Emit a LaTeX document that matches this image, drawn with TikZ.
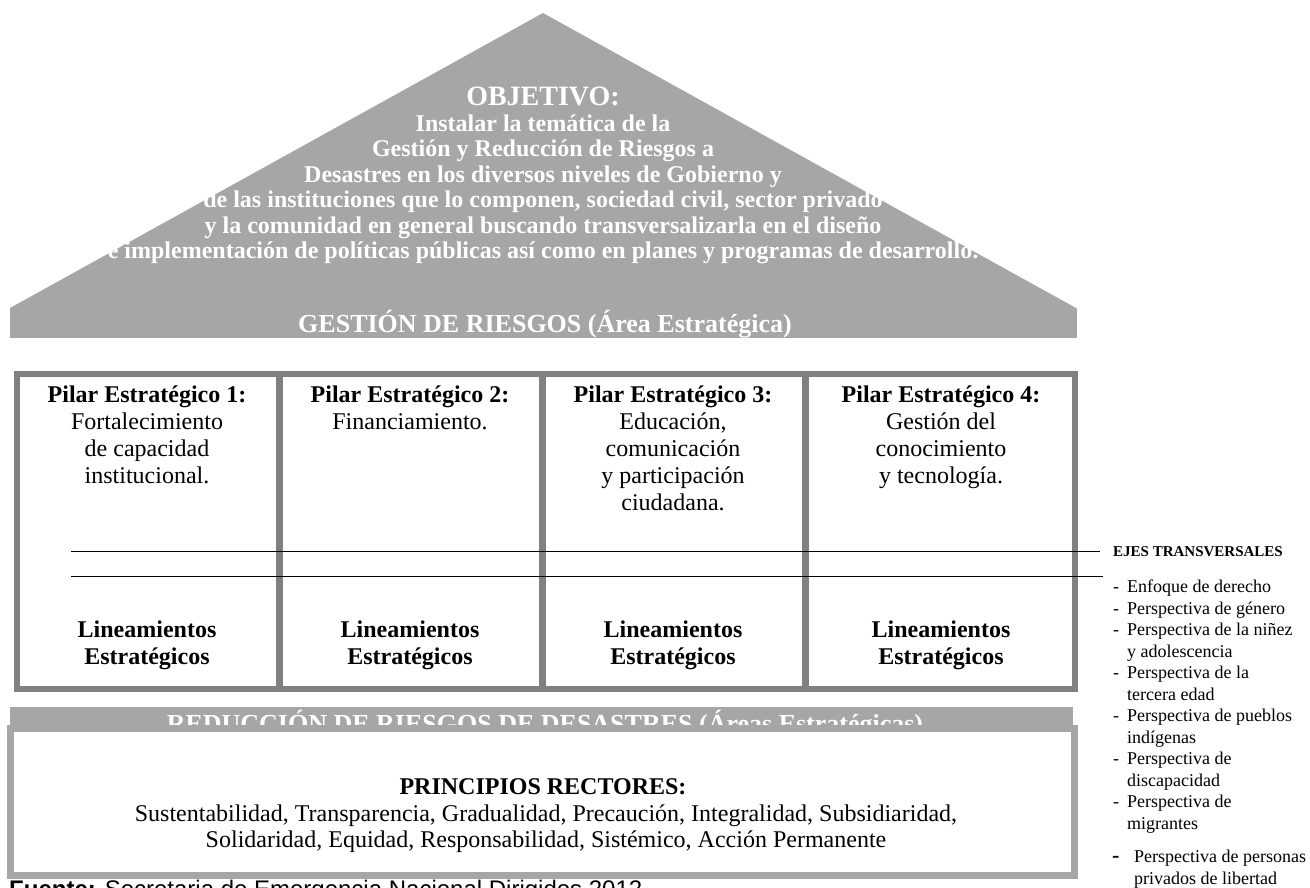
\documentclass[tikz,border=0pt]{standalone}
\usepackage{fontspec}
\setmainfont{Liberation Serif}
\newfontfamily\arialfont{Liberation Sans}
\newcommand\myfs[2]{\fontsize{#1}{#2}\selectfont}
\definecolor{lgray}{HTML}{A6A6A6}
\definecolor{dgray}{HTML}{808080}
\tikzset{
  tri/.style={anchor=base, text=white, font=\bfseries\myfs{24}{26}, inner sep=0pt},
  ban/.style={anchor=base, text=white, font=\bfseries\myfs{26}{28}, inner sep=0pt},
  ptitle/.style={anchor=base, font=\bfseries\myfs{24}{27}, inner sep=0pt},
  ptext/.style={anchor=base, font=\myfs{24}{27}, inner sep=0pt},
  lin/.style={anchor=base, font=\bfseries\myfs{24}{27}, inner sep=0pt},
  prin/.style={anchor=base, font=\myfs{24}{27}, inner sep=0pt},
  eje/.style={anchor=base west, font=\myfs{18}{18}, inner sep=0pt},
  axisline/.style={draw=black, line width=0.9pt}
}
\begin{document}
\begin{tikzpicture}[x=1pt,y=-1pt]
\useasboundingbox (0,0) rectangle (1310,887);
\begin{scope}
\clip (0,0) rectangle (1310,887);
% roof
\fill[lgray] (10,308) -- (543,13) -- (1076,308) -- cycle;
\fill[lgray] (10,307.5) rectangle (1077,338);
\node[tri, font=\bfseries\myfs{28}{28}] (obj) at (543,105) {OBJETIVO:};
\node[tri] (o1) at (543,131) {Instalar la temática de la};
\node[tri] (o2) at (543,156.5) {Gestión y Reducción de Riesgos a};
\node[tri] (o3) at (543,182) {Desastres en los diversos niveles de Gobierno y};
\node[tri] (o4) at (543,207.5) {de las instituciones que lo componen, sociedad civil, sector privado};
\node[tri] (o5) at (543,233) {y la comunidad en general buscando transversalizarla en el diseño};
\node[tri] (o6) at (543,258.5) {e implementación de políticas públicas así como en planes y programas de desarrollo.};
\node[ban] (gest) at (545,332) {GESTIÓN DE RIESGOS (Área Estratégica)};
% pillars frame
\fill[white] (17,374) rectangle (1075,689);
\draw[dgray, line width=6pt] (17,374) rectangle (1075,689);
\draw[dgray, line width=7pt] (279,374) -- (279,689);
\draw[dgray, line width=7pt] (542,374) -- (542,689);
\draw[dgray, line width=7pt] (805.5,374) -- (805.5,689);
% pillar texts
\node[ptitle] (p1) at (147,402.5) {Pilar Estratégico 1:};
\node[ptext] (p1a) at (147,429.5) {Fortalecimiento};
\node[ptext] (p1b) at (147,456.5) {de capacidad};
\node[ptext] (p1c) at (147,483.5) {institucional.};
\node[ptitle] (p2) at (410,402.5) {Pilar Estratégico 2:};
\node[ptext] (p2a) at (410,429.5) {Financiamiento.};
\node[ptitle] (p3) at (673,402.5) {Pilar Estratégico 3:};
\node[ptext] (p3a) at (673,429.5) {Educación,};
\node[ptext] (p3b) at (673,456.5) {comunicación};
\node[ptext] (p3c) at (673,483.5) {y participación};
\node[ptext] (p3d) at (673,510.5) {ciudadana.};
\node[ptitle] (p4) at (941,402.5) {Pilar Estratégico 4:};
\node[ptext] (p4a) at (941,429.5) {Gestión del};
\node[ptext] (p4b) at (941,456.5) {conocimiento};
\node[ptext] (p4c) at (941,483.5) {y tecnología.};
\foreach \cx/\nm in {147/l1,410/l2,673/l3,941/l4}{
  \node[lin] (\nm a) at (\cx,637) {Lineamientos};
  \node[lin] (\nm b) at (\cx,664) {Estratégicos};
}
% transversal lines
\coordinate (t1a) at (71,551);
\coordinate (t1b) at (1100,551);
\coordinate (t2a) at (71,576);
\coordinate (t2b) at (1103,576);
\draw[axisline] (t1a) -- (t1b);
\draw[axisline] (t2a) -- (t2b);
% ejes transversales
\node[anchor=base west, font=\bfseries\myfs{15}{15}, inner sep=0pt] (ejes) at (1113,556) {EJES TRANSVERSALES};
\node[eje] (d1) at (1113,592.5) {-};
\node[eje] (e1) at (1127,592.5) {Enfoque de derecho};
\node[eje] (d2) at (1113,614) {-};
\node[eje] (e2) at (1127,614) {Perspectiva de género};
\node[eje] (d3) at (1113,635.5) {-};
\node[eje] (e3) at (1127,635.5) {Perspectiva de la niñez};
\node[eje] (e3b) at (1127,657) {y adolescencia};
\node[eje] (d4) at (1113,678.5) {-};
\node[eje] (e4) at (1127,678.5) {Perspectiva de la};
\node[eje] (e4b) at (1127,700) {tercera edad};
\node[eje] (d5) at (1113,721.5) {-};
\node[eje] (e5) at (1127,721.5) {Perspectiva de pueblos};
\node[eje] (e5b) at (1127,743) {indígenas};
\node[eje] (d6) at (1113,764.5) {-};
\node[eje] (e6) at (1127,764.5) {Perspectiva de};
\node[eje] (e6b) at (1127,786) {discapacidad};
\node[eje] (d7) at (1113,807.5) {-};
\node[eje] (e7) at (1127,807.5) {Perspectiva de};
\node[eje] (e7b) at (1127,829) {migrantes};
\node[eje, font=\bfseries\myfs{22}{22}] (d8) at (1112,862) {-};
\node[eje] (e8) at (1134,862) {Perspectiva de personas};
\node[eje] (e8b) at (1134,884) {privados de libertad};
% bottom banner and box
\fill[lgray] (10,707) rectangle (1073,730);
\node[ban] (red) at (545,732) {REDUCCIÓN DE RIESGOS DE DESASTRES (Áreas Estratégicas)};
\fill[white] (10.5,728.5) rectangle (1074.5,875.5);
\draw[lgray, line width=7pt] (10.5,728.5) rectangle (1074.5,875.5);
\node[anchor=base, font=\bfseries\myfs{24}{27}, inner sep=0pt] (prt) at (543,794) {PRINCIPIOS RECTORES:};
\node[prin] (pr1) at (546,821) {Sustentabilidad, Transparencia, Gradualidad, Precaución, Integralidad, Subsidiaridad,};
\node[prin] (pr2) at (546,847) {Solidaridad, Equidad, Responsabilidad, Sistémico, Acción Permanente};
% source
\node[anchor=base west, font=\arialfont\myfs{24}{24}, inner sep=0pt] (src) at (9,897) {\textbf{Fuente:} Secretaria de Emergencia Nacional Dirigidos 2012};
\end{scope}
\end{tikzpicture}
\end{document}
